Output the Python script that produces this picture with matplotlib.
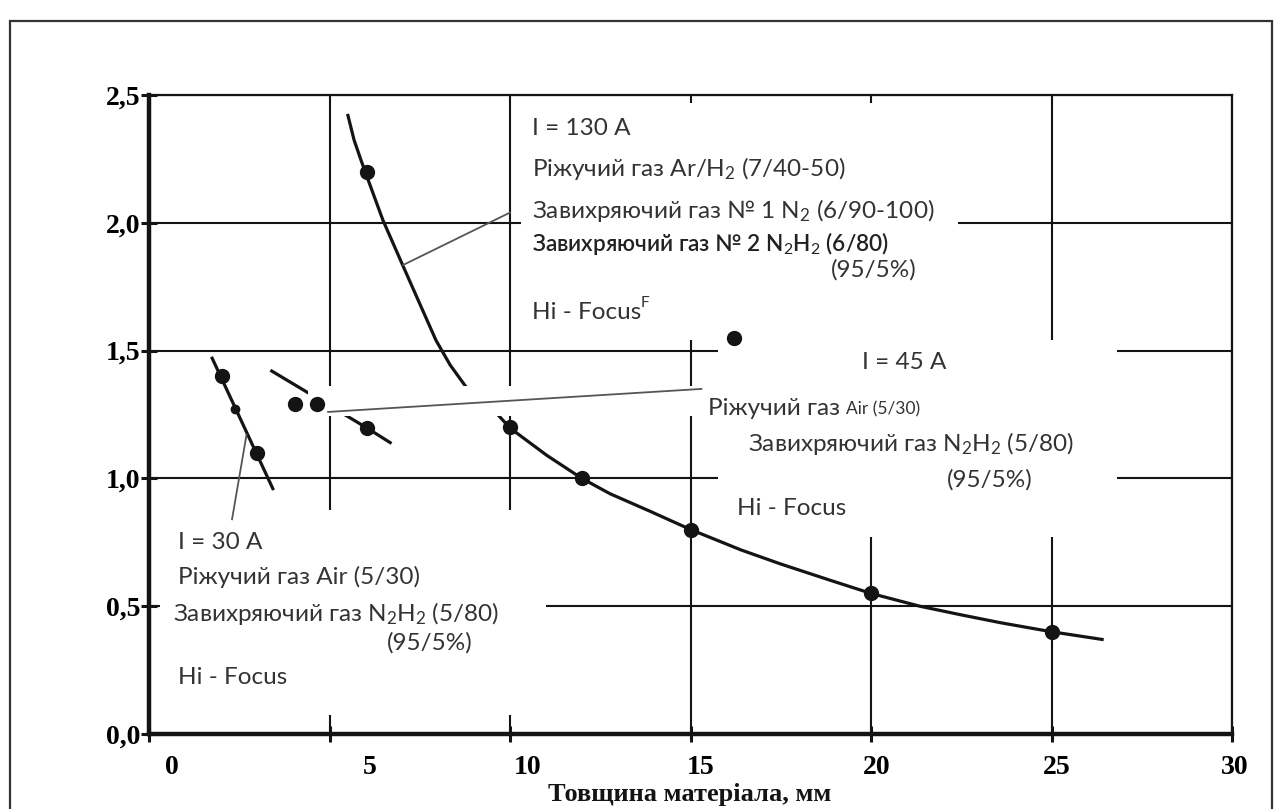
import matplotlib.pyplot as plt
from matplotlib.patches import Rectangle
import matplotlib.transforms as mtransforms

# Крива I = 130 A (точки)
x_130 = [5.51, 5.68, 5.87, 6.09, 6.48, 7.04, 7.51, 7.95, 8.34, 8.78, 9.67, 10.0, 11.02, 11.99,
         12.77, 13.9, 15.0, 16.4, 17.5, 18.9, 20.0, 21.35, 22.5, 23.6, 25.0, 26.4]
y_130 = [2.42, 2.324, 2.246, 2.16, 2.01, 1.83, 1.68, 1.54, 1.444, 1.358, 1.248, 1.197, 1.09, 1.00,
         0.94, 0.87, 0.80, 0.72, 0.665, 0.60, 0.55, 0.50, 0.466, 0.435, 0.40, 0.37]
dots_130_x = [6.04, 10, 12, 15, 20, 25]
dots_130_y = [2.2, 1.2, 1.0, 0.8, 0.55, 0.4]

# Крива I = 45 A
x_45 = [3.4, 6.04, 6.68]
y_45 = [1.42, 1.197, 1.14]
dots_45_x = [4.05, 4.65, 6.04]
dots_45_y = [1.29, 1.29, 1.197]

# Крива I = 30 A
x_30 = [1.75, 3.43]
y_30 = [1.47, 0.96]
dots_30_x = [2.02, 2.99]
dots_30_y = [1.40, 1.10]
small_30_x = [2.38]
small_30_y = [1.27]

# окрема точка
lone_x = [16.2]
lone_y = [1.55]

# лінії-виноски
lead_130 = ([7.04, 10.0], [1.835, 2.04])
lead_45 = ([4.96, 15.3], [1.26, 1.35])
lead_30 = ([2.7, 2.3], [1.17, 0.84])

x_ticks = [0, 5, 10, 15, 20, 25, 30]
x_label_shift_px = [23, 40, 18, 10, 6, 5, 3]
y_ticks = [0, 0.5, 1.0, 1.5, 2.0, 2.5]
y_tick_labels = ['0,0', '0,5', '1,0', '1,5', '2,0', '2,5']

plt.rcParams['mathtext.fontset'] = 'custom'
plt.rcParams['mathtext.rm'] = 'Lato'
plt.rcParams['mathtext.it'] = 'Lato:italic'
plt.rcParams['mathtext.bf'] = 'Lato:bold'

txt_font = ['Lato', 'Open Sans', 'DejaVu Sans']
txt_color = '#333333'
ink = '#141414'

fig = plt.figure(figsize=(12.79, 8.09), dpi=100)
fig.patches.append(Rectangle((10 / 1279, -0.02), 1262 / 1279, 1 - 21 / 809 + 0.02,
                             transform=fig.transFigure, fill=False,
                             edgecolor='#333333', linewidth=1.6))

ax = fig.add_axes([0.1165, 0.0927, 0.8468, 0.7899])
ax.set_xlim(0, 30)
ax.set_ylim(0, 2.5)
ax.set_axisbelow(True)
ax.grid(True, color=ink, linewidth=1.5)

for side in ['left', 'bottom']:
    ax.spines[side].set_linewidth(3.2)
    ax.spines[side].set_color(ink)
for side in ['top', 'right']:
    ax.spines[side].set_linewidth(1.6)
    ax.spines[side].set_color(ink)

ax.set_xticks(x_ticks)
ax.set_yticks(y_ticks)
ax.set_yticklabels(y_tick_labels)
ax.tick_params(direction='inout', length=12, width=2.2, color=ink)
ax.tick_params(axis='x', pad=9)
ax.tick_params(axis='y', pad=0)
for lab in ax.get_xticklabels() + ax.get_yticklabels():
    lab.set_fontfamily('Liberation Serif')
    lab.set_fontweight('bold')
    lab.set_fontsize(20)
for lab, dx in zip(ax.get_xticklabels(), x_label_shift_px):
    lab.set_transform(lab.get_transform() + mtransforms.ScaledTranslation(dx / 100, 0, fig.dpi_scale_trans))

# білі підкладки під написами (закривають сітку)
for (x0, x1, y0, y1) in [(10.3, 22.4, 1.54, 2.47), (15.75, 26.8, 0.77, 1.54), (0.3, 11.0, 0.075, 0.875)]:
    ax.add_patch(Rectangle((x0, y0), x1 - x0, y1 - y0, facecolor='white', edgecolor='none', zorder=1))
ax.add_patch(Rectangle((4.4, 1.245), 11.0, 0.115, facecolor='white', edgecolor='none', zorder=2.5))

# криві
ax.plot(x_130, y_130, color=ink, linewidth=2.3, zorder=2, solid_joinstyle='round')
ax.plot(x_45, y_45, color=ink, linewidth=2.3, zorder=2)
ax.plot(x_30, y_30, color=ink, linewidth=2.3, zorder=2)

for lx, ly in [lead_130, lead_45, lead_30]:
    ax.plot(lx, ly, color='#555555', linewidth=1.3, zorder=3)

ax.plot(dots_130_x, dots_130_y, 'o', color=ink, markersize=10, zorder=4)
ax.plot(dots_45_x, dots_45_y, 'o', color=ink, markersize=10, zorder=4)
ax.plot(dots_30_x, dots_30_y, 'o', color=ink, markersize=10, zorder=4)
ax.plot(small_30_x, small_30_y, 'o', color=ink, markersize=6, zorder=4)
ax.plot(lone_x, lone_y, 'o', color=ink, markersize=10, zorder=4)

kw = dict(family=txt_font, color=txt_color, fontsize=17.5, va='center', ha='left', zorder=5)
small = dict(family=txt_font, color=txt_color, fontsize=12.5, va='center', ha='left', zorder=5)

# I = 130 A
ax.text(10.6, 2.37, 'I = 130 A', **kw)
ax.text(10.6, 2.214, 'Ріжучий газ Ar/H$_2$ (7/40-50)', **kw)
ax.text(10.6, 2.05, 'Завихряючий газ № 1 N$_2$ (6/90-100)', **kw)
ax.text(10.6, 1.92, 'Завихряючий газ № 2 N$_2$H$_2$ (6/80)', family=txt_font, color='#222222',
        fontsize=16.3, fontweight='semibold', va='center', ha='left', zorder=5)
ax.text(18.9, 1.815, '(95/5%)', **kw)
hf = ax.text(10.6, 1.65, 'Hi - Focus', **kw)
ax.annotate('F', xy=(1.0, 0.95), xycoords=hf, fontsize=11, family=txt_font,
            color=txt_color, va='center', ha='left', zorder=5)

# I = 45 A
ax.text(19.75, 1.455, 'I = 45 A', **kw)
rg = ax.text(15.48, 1.275, 'Ріжучий газ ', **kw)
ax.annotate('Air (5/30)', xy=(1.0, 0.42), xycoords=rg, **small)
ax.text(16.6, 1.138, 'Завихряючий газ N$_2$H$_2$ (5/80)', **kw)
ax.text(22.1, 0.994, '(95/5%)', **kw)
ax.text(16.3, 0.884, 'Hi - Focus', **kw)

# I = 30 A
ax.text(0.8, 0.75, 'I = 30 A', **kw)
ax.text(0.8, 0.614, 'Ріжучий газ Air (5/30)', **kw)
ax.text(0.66, 0.473, 'Завихряючий газ N$_2$H$_2$ (5/80)', **kw)
ax.text(6.6, 0.356, '(95/5%)', **kw)
ax.text(0.8, 0.223, 'Hi - Focus', **kw)

fig.text(690 / 1279, 0.004, 'Товщина матеріала, мм', ha='center', va='bottom',
         family='Liberation Serif', fontweight='bold', fontsize=19, color=ink)

fig.savefig('out.png', dpi=100)
